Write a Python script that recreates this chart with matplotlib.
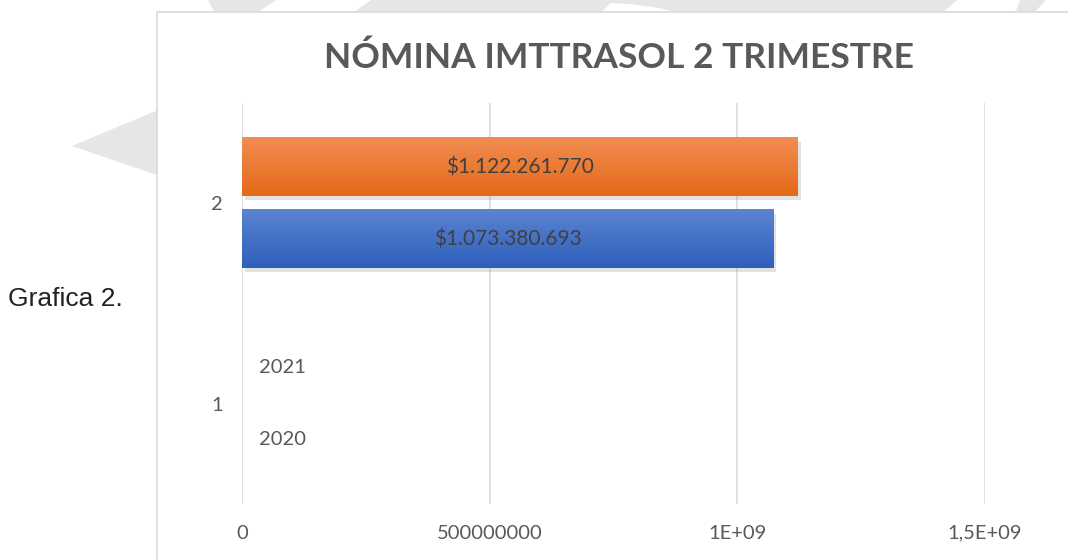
import numpy as np
import matplotlib
matplotlib.use('Agg')
import matplotlib.pyplot as plt
from matplotlib.patches import Polygon, Rectangle
from matplotlib.colors import LinearSegmentedColormap
import matplotlib.patheffects as pe

# data (Excel picked up the year row as values)
categories = ['1', '2']
values_2020 = [2020, 1073380693]
values_2021 = [2021, 1122261770]
x_ticks = [0, 500000000, 1000000000, 1500000000]
x_tick_labels = ['0', '500000000', '1E+09', '1,5E+09']
title = 'NÓMINA IMTTRASOL 2 TRIMESTRE'

W, H = 1068, 560
fig = plt.figure(figsize=(W / 100, H / 100), dpi=100)
fig.patch.set_facecolor('white')


def px(x, y):
    # pixel position -> figure fraction
    return (x / W, 1 - y / H)


# light gray watermark shapes behind the chart box
wm = '#e6e6e6'
shapes = [
    [(72, 146), (230, 80), (230, 200)],
    [(208, 0), (276, 0), (255, 14), (215, 14)],
    [(371, 0), (610, 0), (610, 3), (600, 14), (351, 14)],
    [(610, 0), (957, 0), (941, 14), (681, 14), (660, 8), (630, 4), (610, 3)],
    [(1020, 0), (1046, 0), (1033, 14), (1015, 14)],
]
for s in shapes:
    fig.add_artist(Polygon([px(*p) for p in s], closed=True, transform=fig.transFigure,
                           facecolor=wm, edgecolor='none', zorder=-3))

# chart box
x0, y0 = px(157, 12)
fig.add_artist(Rectangle((x0, -0.1), 1.1, y0 + 0.1, transform=fig.transFigure,
                         facecolor='white', edgecolor='#d9d9d9', linewidth=1.2, zorder=-2))

fig.text(*px(619, 58), title, ha='center', va='center', fontsize=25.5,
         fontfamily='Lato', fontweight='bold', color='#595959')
fig.text(*px(8, 299), 'Grafica 2.', ha='left', va='center', fontsize=19,
         fontfamily='Liberation Sans', color='#222222')

l, t = px(242, 103)
r, b = px(985, 504)
ax = fig.add_axes([l, b, r - l, t - b])
ax.set_facecolor('none')

y = np.arange(1, len(categories) + 1)
bh = 0.29
off = 0.18
shadow = [pe.SimplePatchShadow(offset=(2, -2.5), shadow_rgbFace='#8c8c8c', alpha=0.25), pe.Normal()]
bars_2020 = ax.barh(y - off, values_2020, height=bh, color='#4472c4', linewidth=0,
                    zorder=3, path_effects=shadow)
bars_2021 = ax.barh(y + off, values_2021, height=bh, color='#ed7d31', linewidth=0,
                    zorder=3, path_effects=shadow)

# vertical gradient on each bar (skip the ones too thin to see)
grad = np.linspace(0, 1, 64).reshape(-1, 1)
for bars, cols in [(bars_2020, ['#5b84d2', '#2e5fbb']), (bars_2021, ['#f28c52', '#e46a18'])]:
    cmap = LinearSegmentedColormap.from_list('g', cols)
    for bar in bars:
        bx, by, bw, bhh = bar.get_x(), bar.get_y(), bar.get_width(), bar.get_height()
        if bw < 1e6:
            bar.set_facecolor('#f2f2f2')
            bar.set_path_effects([])
            continue
        ax.imshow(grad, extent=[bx, bx + bw, by, by + bhh], origin='upper', aspect='auto',
                  cmap=cmap, zorder=4)


def fmt(v):
    if v > 1e6:
        return '$' + f'{v:,}'.replace(',', '.')
    return str(v)


for bars in (bars_2020, bars_2021):
    for bar in bars:
        v = int(bar.get_width())
        yc = bar.get_y() + bar.get_height() / 2
        if v > 1e6:
            ax.text(v / 2, yc, fmt(v), ha='center', va='center', fontsize=15,
                    fontfamily='Lato', color='#404040', zorder=5)
        else:
            ax.annotate(fmt(v), (v, yc), xytext=(12, 0), textcoords='offset points',
                        ha='left', va='center', fontsize=14.5, fontfamily='Lato',
                        color='#595959', zorder=5)

ax.set_xlim(0, 1500000000)
ax.set_ylim(0.5, 2.5)
ax.set_xticks(x_ticks)
ax.set_xticklabels(x_tick_labels)
ax.set_yticks(y)
ax.set_yticklabels(categories)
ax.grid(axis='x', color='#d9d9d9', linewidth=1.2, zorder=0)
ax.set_axisbelow(True)
for sp in ax.spines.values():
    sp.set_visible(False)
ax.tick_params(length=0, labelsize=14.5, colors='#595959')
ax.tick_params(axis='x', pad=15)
ax.tick_params(axis='y', pad=14)
for lab in ax.get_xticklabels() + ax.get_yticklabels():
    lab.set_fontfamily('Lato')

fig.savefig('out.png', dpi=100)
